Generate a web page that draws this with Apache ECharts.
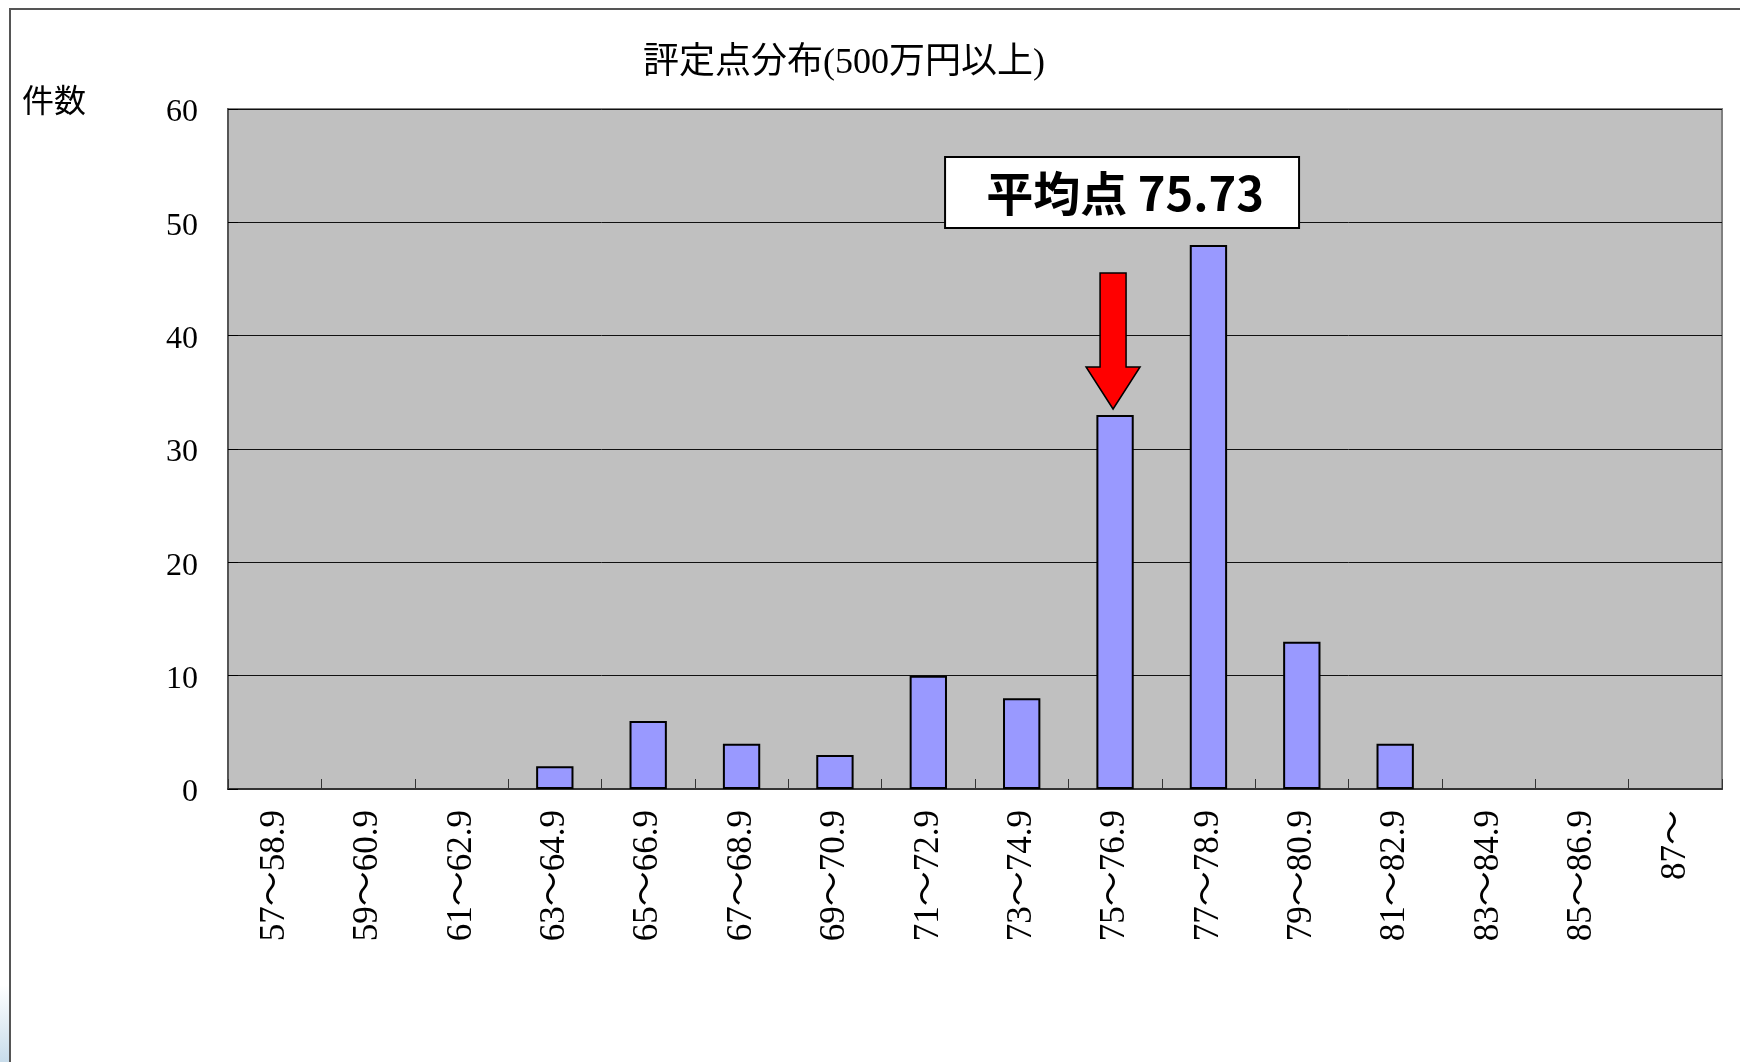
<!DOCTYPE html>
<html lang="ja">
<head>
<meta charset="UTF-8">
<title>評定点分布</title>
<script src="https://cdn.jsdelivr.net/npm/echarts@6/dist/echarts.min.js"></script>
<style>
  html, body { margin: 0; padding: 0; background: #fff; }
  #chart { width: 1740px; height: 1062px; }
</style>
</head>
<body>
<div id="chart"></div>
<script>
  // 区間ラベル（評定点）
  var categories = ['57～58.9', '59～60.9', '61～62.9', '63～64.9', '65～66.9', '67～68.9',
    '69～70.9', '71～72.9', '73～74.9', '75～76.9', '77～78.9', '79～80.9',
    '81～82.9', '83～84.9', '85～86.9', '87～'];
  // 件数
  var counts = [0, 0, 0, 2, 6, 4, 3, 10, 8, 33, 48, 13, 4, 0, 0, 0];
  var yMin = 0, yMax = 60, yStep = 10;

  var titleText = '評定点分布(500万円以上)';
  var yName = '件数';
  var meanText = '平均点 75.73';
  var meanCategory = '75～76.9';

  var serif = '"Liberation Serif", "Noto Sans CJK JP", serif';

  var chart = echarts.init(document.getElementById('chart'));

  // 0件の区間は枠線も描かない
  var barData = counts.map(function (v) {
    return v === 0 ? { value: v, itemStyle: { borderWidth: 0 } } : v;
  });

  var option = {
    animation: false,
    backgroundColor: '#fff',
    title: {
      text: titleText,
      left: 638,
      top: 41,
      textStyle: { fontFamily: serif, fontSize: 36, fontWeight: 'normal', color: '#000' }
    },
    grid: {
      left: 228, right: 18, top: 109, bottom: 273,
      show: true,
      backgroundColor: '#C0C0C0',
      borderColor: '#808080',
      borderWidth: 2
    },
    xAxis: {
      type: 'category',
      data: categories,
      axisLine: { show: true, lineStyle: { color: '#333', width: 2 } },
      axisTick: { show: true, inside: true, length: 10, lineStyle: { color: '#333', width: 1 } },
      axisLabel: {
        rotate: 90, margin: 21, interval: 0,
        fontFamily: serif, fontSize: 35, color: '#000'
      }
    },
    yAxis: {
      type: 'value',
      min: yMin, max: yMax, interval: yStep,
      axisLine: { show: true, lineStyle: { color: '#555', width: 2 } },
      axisTick: { show: true, inside: true, length: 10, lineStyle: { color: '#000' } },
      axisLabel: {
        margin: 30,
        formatter: '{n|{value}}',
        rich: {
          n: { fontFamily: serif, fontSize: 32, color: '#000', padding: [8, 0, 0, 0] }
        }
      },
      splitLine: { show: true, lineStyle: { color: '#111', width: 1 } }
    },
    series: [
      {
        type: 'bar',
        data: barData,
        barWidth: '40%',
        itemStyle: { color: '#9999FF', borderColor: '#000', borderWidth: 2 }
      }
    ]
  };
  chart.setOption(option);

  // 平均点の矢印と枠
  var idx = categories.indexOf(meanCategory);
  var p = chart.convertToPixel({ seriesIndex: 0 }, [idx, counts[idx]]);
  var cx = p[0] - 2, tip = p[1] - 6;
  var headBase = tip - 42, shaftTop = tip - 136;

  chart.setOption({
    graphic: [
      {
        type: 'rect',
        shape: { x: 0, y: 985, width: 9, height: 80 },
        style: {
          fill: new echarts.graphic.LinearGradient(0, 0, 0, 1, [
            { offset: 0, color: '#ffffff' },
            { offset: 1, color: '#c6dbea' }
          ])
        },
        silent: true
      },
      {
        type: 'rect',
        shape: { x: 10, y: 9, width: 1760, height: 1100 },
        style: { fill: null, stroke: '#555', lineWidth: 2 },
        silent: true
      },
      {
        type: 'text',
        left: 22, top: 84,
        style: { text: yName, font: '32px "Noto Sans CJK JP"', fill: '#000' }
      },
      {
        type: 'polygon',
        shape: {
          points: [
            [cx - 13, shaftTop], [cx + 13, shaftTop], [cx + 13, headBase],
            [cx + 27, headBase], [cx, tip], [cx - 27, headBase], [cx - 13, headBase]
          ]
        },
        style: { fill: '#FF0000', stroke: '#000', lineWidth: 1.5 },
        z: 10
      },
      {
        type: 'rect',
        shape: { x: cx + 9 - 177, y: tip - 252, width: 354, height: 71 },
        style: { fill: '#fff', stroke: '#000', lineWidth: 2 },
        z: 10
      },
      {
        type: 'text',
        x: cx + 12, y: tip - 252 + 36,
        style: {
          text: meanText,
          font: 'bold 47px "Noto Sans CJK JP"',
          fill: '#000',
          align: 'center',
          verticalAlign: 'middle'
        },
        z: 11
      }
    ]
  });
</script>
</body>
</html>
